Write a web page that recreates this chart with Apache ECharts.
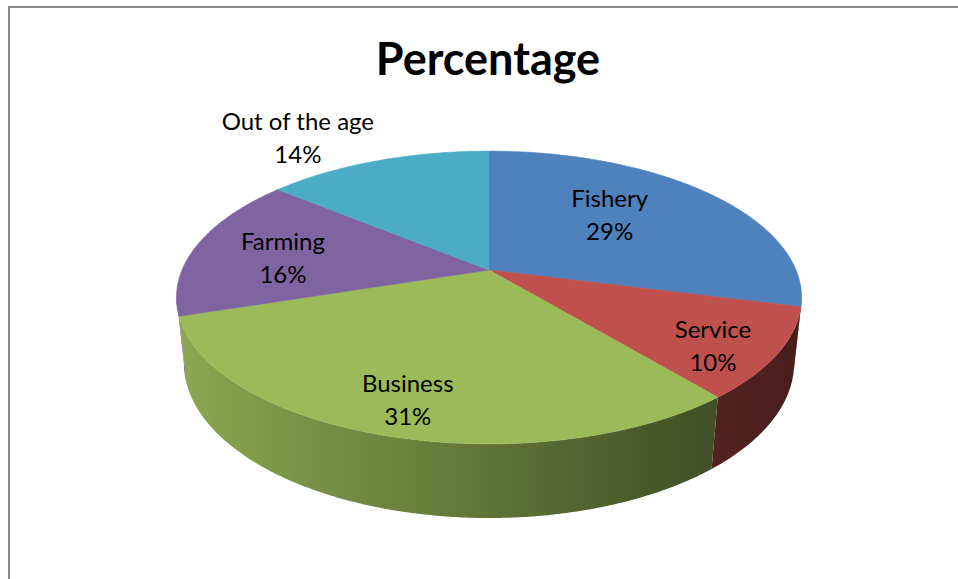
<!DOCTYPE html>
<html>
<head>
<meta charset="utf-8">
<script src="https://cdn.jsdelivr.net/npm/echarts@6/dist/echarts.min.js"></script>
<style>
  html, body { margin: 0; padding: 0; background: #ffffff; }
  #chart { width: 958px; height: 579px; }
</style>
</head>
<body>
<div id="chart"></div>
<script>
// ---- data ----
const categories = ['Fishery', 'Service', 'Business', 'Farming', 'Out of the age'];
const percentValues = [29, 10, 31, 16, 14];
const sliceColors = ['#4F81BD', '#C0504D', '#9BBB59', '#8064A2', '#4BACC6'];

// ---- label placement on the disc: shift from slice middle (deg), radius factor ----
const labelShift = [-7.2, 3.6, 0, -2.8, -8.3];
const labelRadius = [0.6, 0.82, 0.81, 0.69, 1.37];

// ---- 3D view of the disc (perspective camera tilted down) ----
const VIEW = { cx: 489, cy: 270, scale: 307, tilt: 27.39, dist: 4.73, depth: 0.2424 };
const FONT = 'Lato, "Open Sans", sans-serif';

const sinA = Math.sin(VIEW.tilt * Math.PI / 180);
const cosA = Math.cos(VIEW.tilt * Math.PI / 180);

// theta: degrees clockwise from the back of the disc; r: radius factor; h: height (0 = top face)
function project(theta, r, h) {
  const t = theta * Math.PI / 180;
  const X = r * Math.sin(t), Z = r * Math.cos(t), Y = h;
  const yc = Y * cosA + Z * sinA;
  const zc = Z * cosA - Y * sinA + VIEW.dist;
  const k = VIEW.scale * VIEW.dist / zc;
  return [VIEW.cx + k * X, VIEW.cy - k * yc];
}

// angular range of the rim that faces the viewer
const rimLimit = Math.acos(-cosA / VIEW.dist) * 180 / Math.PI;
const rimFront = [rimLimit, 360 - rimLimit];

const total = percentValues.reduce((a, b) => a + b, 0);
const startAngles = [];
(function () {
  let acc = 0;
  percentValues.forEach(v => { startAngles.push(acc / total * 360); acc += v; });
})();

function shade(hex, f) {
  const n = parseInt(hex.slice(1), 16);
  const r = Math.round(((n >> 16) & 255) * f);
  const g = Math.round(((n >> 8) & 255) * f);
  const b = Math.round((n & 255) * f);
  return 'rgb(' + r + ',' + g + ',' + b + ')';
}

function rimFill(base) {
  const left = project(270, 1, 0)[0] - 4;
  const right = project(90, 1, 0)[0] + 4;
  return {
    type: 'linear', x: left, y: 0, x2: right, y2: 0, global: true,
    colorStops: [
      { offset: 0, color: shade(base, 0.9) },
      { offset: 0.2, color: shade(base, 0.78) },
      { offset: 0.5, color: shade(base, 0.62) },
      { offset: 0.76, color: shade(base, 0.47) },
      { offset: 1, color: shade(base, 0.37) }
    ]
  };
}

function arc(a0, a1, r, h) {
  const pts = [];
  const n = Math.max(2, Math.ceil((a1 - a0) / 0.5));
  for (let j = 0; j <= n; j++) pts.push(project(a0 + (a1 - a0) * j / n, r, h));
  return pts;
}

function renderItem(params, api) {
  const i = params.dataIndex;
  const v = api.value(1);
  const a0 = startAngles[i];
  const a1 = a0 + v / total * 360;
  const color = sliceColors[i];
  const children = [];

  // outer rim (only the part facing the viewer)
  const s0 = Math.max(a0, rimFront[0]);
  const s1 = Math.min(a1, rimFront[1]);
  if (s1 > s0) {
    const topEdge = arc(s0, s1, 1, 0);
    const bottomEdge = arc(s0, s1, 1, -VIEW.depth).reverse();
    const fill = rimFill(color);
    children.push({
      type: 'polygon', z2: 1,
      shape: { points: topEdge.concat(bottomEdge) },
      style: { fill: fill }
    });
  }

  // top face
  const top = [project(0, 0, 0)].concat(arc(a0, a1, 1, 0));
  children.push({
    type: 'polygon', z2: 10,
    shape: { points: top },
    style: { fill: color, stroke: color, lineWidth: 0.6, lineJoin: 'round' }
  });

  // data label
  const mid = (a0 + a1) / 2 + labelShift[i];
  const p = project(mid, labelRadius[i], 0);
  children.push({
    type: 'text', z2: 20,
    x: p[0], y: p[1],
    style: {
      text: categories[i] + '\n' + v + '%',
      align: 'center', verticalAlign: 'middle',
      fontFamily: FONT, fontSize: 24, lineHeight: 33,
      fill: '#000000'
    }
  });

  return { type: 'group', children: children };
}

const chart = echarts.init(document.getElementById('chart'), null, { renderer: 'svg' });
chart.setOption({
  backgroundColor: '#ffffff',
  animation: false,
  graphic: [
    {
      type: 'rect', z: -10,
      shape: { x: 9, y: 7, width: 1000, height: 1000 },
      style: { fill: null, stroke: '#8a8a8a', lineWidth: 2 }
    },
    {
      type: 'text', x: 488, y: 58,
      style: {
        text: 'Percentage', align: 'center', verticalAlign: 'middle',
        fontFamily: FONT, fontSize: 45, fontWeight: 'bold', fill: '#000000'
      }
    }
  ],
  series: [{
    type: 'custom',
    coordinateSystem: 'none',
    renderItem: renderItem,
    data: percentValues.map((v, i) => ({ name: categories[i], value: [i, v] }))
  }]
});
</script>
</body>
</html>
